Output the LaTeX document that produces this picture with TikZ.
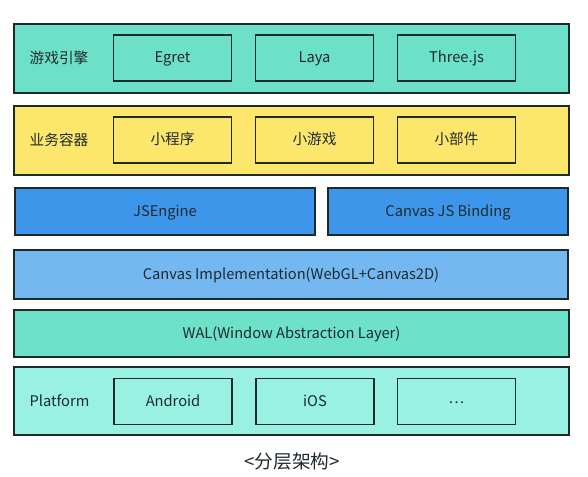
\documentclass[tikz,border=0pt]{standalone}
\usepackage{fontspec}
\setmainfont{Noto Sans CJK SC}
\definecolor{tealA}{HTML}{6DE0C8}
\definecolor{yellowA}{HTML}{FDE66C}
\definecolor{blueA}{HTML}{3E96EA}
\definecolor{blueB}{HTML}{74B8F1}
\definecolor{tealB}{HTML}{6EE1C9}
\definecolor{tealC}{HTML}{98F1E1}
\definecolor{edge}{HTML}{1E2A2A}
\definecolor{txt}{HTML}{1F2A2E}
\begin{document}
\begin{tikzpicture}[x=0.75pt,y=-0.75pt,
  layer/.style={draw=edge,line width=1.4pt},
  inner/.style={draw=edge,line width=1.4pt,minimum width=88.5pt,minimum height=34.5pt,inner sep=0pt},
  lbl/.style={font=\fontsize{11pt}{13pt}\selectfont,text=txt,text height=0.74em,text depth=0.04em}]
\useasboundingbox (0,0) rectangle (588,477);
\fill[white] (0,0) rectangle (588,477);
% layer 1
\draw[layer,fill=tealA] (14,24) rectangle (569,93);
\node[lbl] (l1) at (59,58.5) {游戏引擎};
\node[inner,lbl] (egret) at (172.5,58) {Egret};
\node[inner,lbl] (laya) at (314.5,58) {Laya};
\node[inner,lbl] (three) at (456.5,58) {Three.js};
% layer 2
\draw[layer,fill=yellowA] (14,106) rectangle (569,175);
\node[lbl] (l2) at (59,140.5) {业务容器};
\node[inner,lbl] (mp) at (172.5,140) {小程序};
\node[inner,lbl] (mg) at (314.5,140) {小游戏};
\node[inner,lbl] (mw) at (456.5,140) {小部件};
% layer 3
\draw[layer,fill=blueA] (15,188) rectangle (315,235);
\node[lbl] (jse) at (165,212) {JSEngine};
\draw[layer,fill=blueA] (328,188) rectangle (568,235);
\node[lbl] (cjb) at (448,212) {Canvas JS Binding};
% layer 4
\draw[layer,fill=blueB] (14,250) rectangle (568,299);
\node[lbl] (ci) at (291,275) {Canvas Implementation(WebGL+Canvas2D)};
% layer 5
\draw[layer,fill=tealB] (14,310) rectangle (569,357);
\node[lbl] (wal) at (291.5,334) {WAL(Window Abstraction Layer)};
% layer 6
\draw[layer,fill=tealC] (14,367) rectangle (569,435);
\node[lbl] (l6) at (59.5,402) {Platform};
\node[inner,lbl] (android) at (173,401.5) {Android};
\node[inner,lbl] (ios) at (315,401.5) {iOS};
\node[inner,lbl] (more) at (456.5,401.5) {\raisebox{2pt}{…}};
% caption
\node[font=\fontsize{14pt}{16pt}\selectfont,text=txt] (cap) at (292,461) {<分层架构>};
\end{tikzpicture}
\end{document}
